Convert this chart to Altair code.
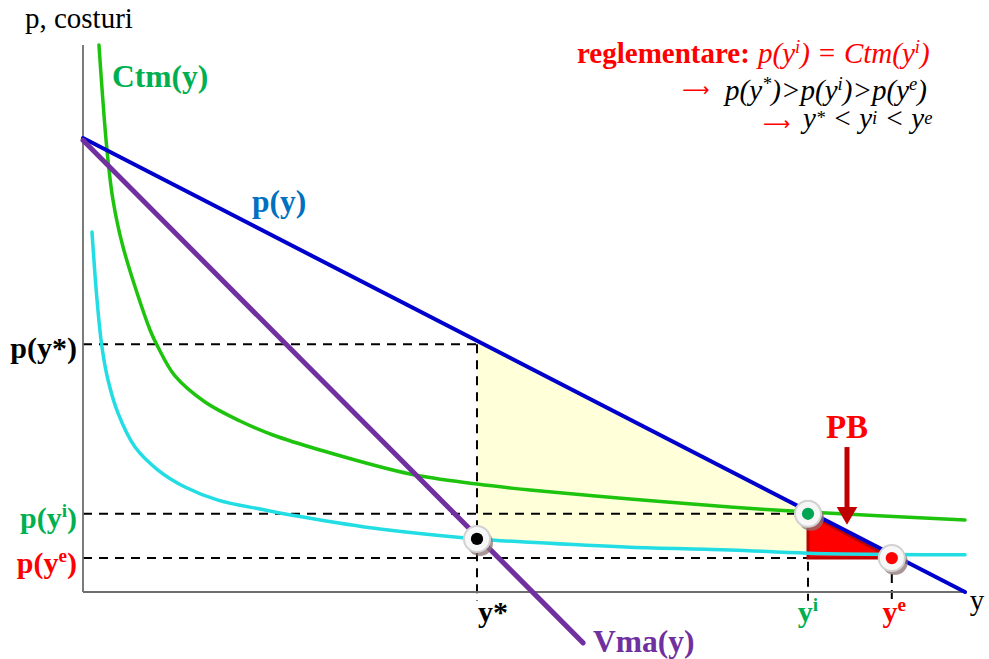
import altair as alt
import numpy as np
import pandas as pd

# ---- curves -------------------------------------------------------------
# demand p(y) and marginal revenue Vma(y) are straight lines (end points)
demand_q = [0.0, 100.0]
demand_p = [83.0, 0.0]
vma_q = [0.0, 56.7]
vma_p = [82.6, -9.3]

# average total cost Ctm(y)
ctm_q = [1.81, 2.72, 3.40, 4.54, 7.60, 8.50, 10.43, 13.83, 17.80, 21.54,
         26.87, 37.07, 44.67, 50.68, 62.02, 73.36, 82.20, 100.0]
ctm_p = [100.0, 80.8, 71.66, 63.07, 47.9, 44.79, 39.49, 34.73, 31.26, 28.70,
         25.96, 21.57, 19.74, 18.65, 17.0, 15.54, 14.63, 13.16]

# marginal cost (cyan)
cmg_q = [1.02, 1.59, 2.15, 2.83, 3.97, 5.90, 8.50, 11.56, 15.31, 20.63,
         24.60, 33.67, 44.67, 50.68, 62.02, 73.36, 82.20, 100.0]
cmg_p = [65.8, 53.4, 44.8, 38.8, 32.7, 26.5, 22.3, 19.2, 16.8, 15.0,
         13.8, 11.5, 9.7, 9.1, 8.2, 7.7, 7.1, 6.8]

# ---- key quantities / prices --------------------------------------------
y_star, p_star, vma_star = 44.67, 45.3, 9.7   # monopoly
y_i, p_i = 82.2, 14.3                          # regulated p = Ctm
y_e, p_e = 91.7, 6.2                           # efficient p = Cmg
tick_end = -1.6                                # dashed guides run a bit below the axis
axis_top, axis_right = 100.0, 100.0

# ---- scales ---------------------------------------------------------------
XS = alt.Scale(domain=[-9.41, 102.72], nice=False, zero=False)
YS = alt.Scale(domain=[-12.25, 108.23], nice=False, zero=False)


def X(f):
    return alt.X(f, type="quantitative", scale=XS, axis=None)


def Y(f):
    return alt.Y(f, type="quantitative", scale=YS, axis=None)


def line(q, p, color, width, interp="catmull-rom"):
    df = pd.DataFrame({"q": q, "p": p})
    return alt.Chart(df).mark_line(
        color=color, strokeWidth=width, interpolate=interp, strokeCap="round"
    ).encode(x=X("q"), y=Y("p"), order="q:Q")


# ---- rich text (runs with superscripts) ------------------------------------
SERIF = "Liberation Serif"
ADV = {  # Times-compatible advance widths, 1/1000 em
    "bold": {"p": 556, "(": 333, ")": 333, "y": 500, "*": 500, "i": 278,
             "e": 444, "C": 722, "t": 333, "m": 833, "V": 722, "a": 500,
             "P": 611, "B": 667, "r": 444, "g": 500, "l": 278, "n": 556,
             ":": 333, " ": 250},
    "italic": {"p": 500, "(": 333, ")": 333, "y": 444, "=": 675, ">": 675,
               "<": 675, "C": 667, "t": 278, "m": 722, "*": 500, "i": 278,
               "e": 444, " ": 250},
    "normal": {"p": 500, ",": 250, " ": 250, "c": 444, "o": 500, "s": 389,
               "t": 278, "u": 500, "r": 333, "i": 278, "y": 500},
}
SUP_SCALE = 0.64


def rich(x, y, runs, size, color="black", kind="bold", align="left", dx=0, dy=0,
         rise=0.36):
    """runs: list of (text, is_superscript). Leading/trailing blanks of a run
    become horizontal offsets, since the renderer trims them."""
    tbl = ADV[kind]
    space = tbl[" "] / 1000
    pieces = []
    for t, sup in runs:
        fs = size * SUP_SCALE if sup else size
        lead = (len(t) - len(t.lstrip(" "))) * space * fs
        trail = (len(t) - len(t.rstrip(" "))) * space * fs
        core = t.strip(" ")
        w = sum(tbl.get(ch, 500) for ch in core) * fs / 1000
        pieces.append((core, sup, fs, lead, w, trail))
    total = sum(p[3] + p[4] + p[5] for p in pieces)
    off = dx - {"left": 0, "center": total / 2, "right": total}[align]
    df = pd.DataFrame({"x": [x], "y": [y]})
    layers = []
    for core, sup, fs, lead, w, trail in pieces:
        off += lead
        layers.append(
            alt.Chart(df).mark_text(
                text=core, font=SERIF, fontSize=fs,
                fontWeight="bold" if kind == "bold" else "normal",
                fontStyle="italic" if kind == "italic" else "normal",
                color=color, align="left", baseline="alphabetic",
                dx=off, dy=dy - (size * rise if sup else 0),
            ).encode(x=X("x"), y=Y("y"))
        )
        off += w + trail
    return layers


def glyph(x, y, t, size, color, font="DejaVu Sans"):
    df = pd.DataFrame({"x": [x], "y": [y]})
    return alt.Chart(df).mark_text(
        text=t, font=font, fontSize=size, color=color,
        align="center", baseline="middle"
    ).encode(x=X("x"), y=Y("y"))


# ---- shaded areas --------------------------------------------------------
cmg_arr_q = np.array(cmg_q)
cmg_arr_p = np.array(cmg_p)
mask = (cmg_arr_q >= y_star) & (cmg_arr_q <= y_i)
dwl = pd.DataFrame({
    "q": cmg_arr_q[mask],
    "top": np.interp(cmg_arr_q[mask], demand_q, demand_p),
    "bot": cmg_arr_p[mask],
})
yellow = alt.Chart(dwl).mark_area(color="#FFFFDA", opacity=1).encode(
    x=X("q"), y=Y("top"), y2=alt.Y2("bot")
)

pb = pd.DataFrame({"q": [y_i, y_e], "top": [p_i, p_e], "bot": [p_e, p_e]})
red_tri = alt.Chart(pb).mark_area(
    fill="#FF0000", stroke="#C00000", strokeWidth=3, opacity=1, strokeJoin="miter"
).encode(x=X("q"), y=Y("top"), y2=alt.Y2("bot"))

# ---- dashed guides -------------------------------------------------------
guides = pd.DataFrame({
    "x":  [0, y_star, 0, y_i, 0, y_e],
    "x2": [y_star, y_star, y_i, y_i, y_e, y_e],
    "y":  [p_star, p_star, p_i, p_i, p_e, p_e],
    "y2": [p_star, tick_end, p_i, tick_end, p_e, tick_end],
})
dashed = alt.Chart(guides).mark_rule(
    color="black", strokeWidth=2, strokeDash=[9, 7]
).encode(x=X("x"), x2=alt.X2("x2"), y=Y("y"), y2=alt.Y2("y2"))

# ---- axes ----------------------------------------------------------------
axes_df = pd.DataFrame({
    "x": [0, 0], "x2": [0, axis_right], "y": [0, 0], "y2": [axis_top, 0]
})
axes = alt.Chart(axes_df).mark_rule(color="#6e6e6e", strokeWidth=1.8).encode(
    x=X("x"), x2=alt.X2("x2"), y=Y("y"), y2=alt.Y2("y2")
)

# ---- equilibrium dots ----------------------------------------------------
dots = pd.DataFrame({
    "q": [y_star, y_i, y_e],
    "p": [vma_star, p_i, p_e],
    "c": ["#000000", "#00A651", "#FF0000"],
})
shadow = alt.Chart(dots).mark_point(
    shape="circle", filled=True, size=680, color="#8c7474", opacity=0.75,
    xOffset=3, yOffset=4
).encode(x=X("q"), y=Y("p"))
ring = alt.Chart(dots).mark_point(
    shape="circle", filled=True, size=680, fill="#f7f7f7", stroke="#d2d2d2",
    strokeWidth=2, opacity=1
).encode(x=X("q"), y=Y("p"))
core_dots = alt.Chart(dots).mark_point(
    shape="circle", filled=True, size=150, opacity=1
).encode(x=X("q"), y=Y("p"), color=alt.Color("c:N", scale=None))

# ---- PB arrow ------------------------------------------------------------
pb_x = 86.62
shaft = alt.Chart(pd.DataFrame({"x": [pb_x], "y": [26.5], "y2": [15.5]})).mark_rule(
    color="#C00000", strokeWidth=5
).encode(x=X("x"), y=Y("y"), y2=alt.Y2("y2"))
head = alt.Chart(pd.DataFrame({"x": [pb_x], "y": [13.9]})).mark_point(
    shape="triangle-down", filled=True, size=420, color="#C00000", opacity=1
).encode(x=X("x"), y=Y("y"))

# ---- texts ---------------------------------------------------------------
GREEN_T, RED_T, BLUE_T, PURPLE_T = "#00B050", "#FF0000", "#0070C0", "#7030A0"
x_lab_base = -5.5
texts = (
    rich(-6.58, 103.1, [("p, costuri", False)], 29, kind="normal")
    + rich(3.29, 92.3, [("Ctm(y)", False)], 31.5, GREEN_T)
    + rich(19.16, 69.5, [("p(y)", False)], 31.5, BLUE_T)
    + rich(57.82, -10.97, [("Vma(y)", False)], 31.5, PURPLE_T)
    + rich(-0.68, p_star, [("p(y*)", False)], 30, align="right", dy=13.5)
    + rich(-0.68, p_i, [("p(y", False), ("i", True), (")", False)], 30, GREEN_T,
           align="right", dy=14)
    + rich(-0.68, p_e, [("p(y", False), ("e", True), (")", False)], 30, RED_T,
           align="right", dy=14.5)
    + rich(y_star, x_lab_base, [("y*", False)], 30, align="center", dx=16)
    + rich(y_i, x_lab_base, [("y", False), ("i", True)], 30, GREEN_T, align="center")
    + rich(y_e, x_lab_base, [("y", False), ("e", True)], 30, RED_T, align="center",
           dx=2.5)
    + rich(101.36, -3.29, [("y", False)], 29, kind="normal", align="center")
    + rich(pb_x, 28.15, [("PB", False)], 33, RED_T, align="center")
    # regulation note, top right
    + rich(56.01, 96.71, [("reglementare:", False)], 29, RED_T)
    + rich(56.01, 96.71, [("p(y", False), ("i", True), (") = Ctm(y", False),
                          ("i", True), (")", False)], 29, RED_T, kind="italic",
           dx=181)
    + [glyph(69.5, 91.7, "⟶", 19, RED_T)]
    + rich(72.79, 90.0, [("p(y", False), ("*", True), (")>p(y", False),
                         ("i", True), (")>p(y", False), ("e", True), (")", False)],
           29, kind="italic", rise=0.33)
    + [glyph(78.63, 85.6, "⟶", 19, RED_T)]
    + rich(81.63, 84.8, [("y", False), ("*", True), (" < y", False), ("i", True),
                         (" < y", False), ("e", True)], 29, kind="italic",
           rise=0.14)
)

chart = alt.layer(
    yellow,
    dashed,
    red_tri,
    axes,
    line(cmg_q, cmg_p, "#22DDE3", 3.5),
    line(ctm_q, ctm_p, "#1EC30E", 3.5),
    line(demand_q, demand_p, "#0000CC", 4, "linear"),
    line(vma_q, vma_p, "#7030A0", 5, "linear"),
    shadow, ring, core_dots,
    shaft, head,
    *texts,
).properties(
    width=989, height=659, padding=0, autosize="none", background="white"
).configure_view(stroke=None)

chart.save("out.html", embed_options={"renderer": "svg", "actions": False})
